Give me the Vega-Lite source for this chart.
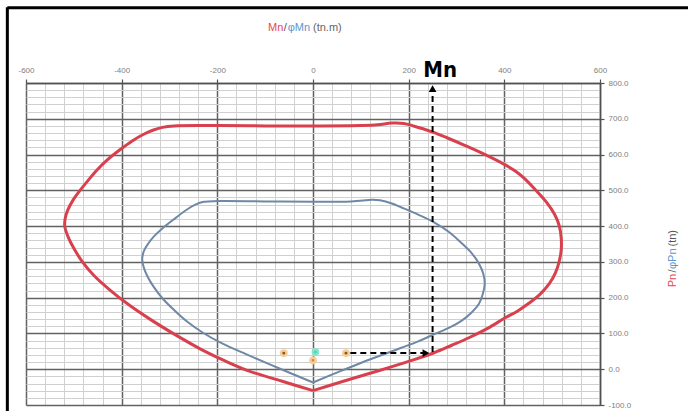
{
  "$schema": "https://vega.github.io/schema/vega-lite/v6.json",
  "width": 574,
  "height": 322,
  "autosize": {"type": "none"},
  "padding": {"left": 26, "top": 83, "right": 88, "bottom": 6},
  "background": "white",
  "config": {
    "view": {"stroke": null},
    "axis": {"labelFont": "Liberation Sans", "labelFontSize": 8, "labelColor": "#808080", "domainColor": "#505050", "domainWidth": 1.5, "tickColor": "#505050", "tickSize": 4, "tickWidth": 1.2}
  },
  "datasets": {
    "red": [
      {"i": 1, "m": 0, "p": -60}, {"i": 2, "m": -66, "p": -33}, {"i": 3, "m": -132, "p": -6}, {"i": 4, "m": -185, "p": 24},
      {"i": 5, "m": -236, "p": 57}, {"i": 6, "m": -290, "p": 98}, {"i": 7, "m": -341, "p": 140}, {"i": 8, "m": -385, "p": 180},
      {"i": 9, "m": -425, "p": 222}, {"i": 10, "m": -458, "p": 262}, {"i": 11, "m": -482, "p": 300}, {"i": 12, "m": -500, "p": 338},
      {"i": 13, "m": -512, "p": 370}, {"i": 14, "m": -519, "p": 400}, {"i": 15, "m": -518, "p": 422},
      {"i": 16, "m": -513, "p": 444}, {"i": 17, "m": -502, "p": 472}, {"i": 18, "m": -487, "p": 500}, {"i": 19, "m": -470, "p": 528},
      {"i": 20, "m": -452, "p": 556}, {"i": 21, "m": -430, "p": 585}, {"i": 22, "m": -403, "p": 614}, {"i": 23, "m": -378, "p": 638},
      {"i": 24, "m": -355, "p": 656}, {"i": 25, "m": -335, "p": 668}, {"i": 26, "m": -315, "p": 676}, {"i": 27, "m": -290, "p": 680},
      {"i": 28, "m": -200, "p": 681}, {"i": 29, "m": -100, "p": 680}, {"i": 30, "m": 0, "p": 680}, {"i": 31, "m": 100, "p": 681},
      {"i": 32, "m": 135, "p": 683}, {"i": 33, "m": 165, "p": 688}, {"i": 34, "m": 190, "p": 687}, {"i": 35, "m": 210, "p": 680},
      {"i": 36, "m": 230, "p": 672}, {"i": 37, "m": 252, "p": 662}, {"i": 38, "m": 280, "p": 647}, {"i": 39, "m": 317, "p": 626},
      {"i": 40, "m": 360, "p": 600}, {"i": 41, "m": 401, "p": 572}, {"i": 42, "m": 425, "p": 552}, {"i": 43, "m": 443, "p": 532},
      {"i": 44, "m": 466, "p": 500}, {"i": 45, "m": 488, "p": 467}, {"i": 46, "m": 505, "p": 433}, {"i": 47, "m": 515, "p": 400},
      {"i": 48, "m": 519, "p": 365}, {"i": 49, "m": 519, "p": 335}, {"i": 50, "m": 515, "p": 303}, {"i": 51, "m": 507, "p": 270},
      {"i": 52, "m": 494, "p": 239}, {"i": 53, "m": 475, "p": 210}, {"i": 54, "m": 452, "p": 185}, {"i": 55, "m": 428, "p": 163},
      {"i": 56, "m": 401, "p": 143}, {"i": 57, "m": 365, "p": 114}, {"i": 58, "m": 326, "p": 88}, {"i": 59, "m": 290, "p": 67},
      {"i": 60, "m": 253, "p": 46}, {"i": 61, "m": 200, "p": 22}, {"i": 62, "m": 130, "p": -7}, {"i": 63, "m": 60, "p": -35},
      {"i": 64, "m": 0, "p": -60}
    ],
    "blue": [
      {"i": 1, "m": 0, "p": -37}, {"i": 2, "m": -70, "p": 2}, {"i": 3, "m": -140, "p": 42}, {"i": 4, "m": -190, "p": 72},
      {"i": 5, "m": -230, "p": 102}, {"i": 6, "m": -262, "p": 132}, {"i": 7, "m": -290, "p": 165}, {"i": 8, "m": -314, "p": 197},
      {"i": 9, "m": -333, "p": 230}, {"i": 10, "m": -347, "p": 262}, {"i": 11, "m": -355, "p": 290}, {"i": 12, "m": -357, "p": 310},
      {"i": 13, "m": -353, "p": 332}, {"i": 14, "m": -344, "p": 352}, {"i": 15, "m": -332, "p": 372}, {"i": 16, "m": -312, "p": 397},
      {"i": 17, "m": -287, "p": 423}, {"i": 18, "m": -265, "p": 445}, {"i": 19, "m": -246, "p": 460}, {"i": 20, "m": -228, "p": 468},
      {"i": 21, "m": -200, "p": 470}, {"i": 22, "m": -100, "p": 469}, {"i": 23, "m": 0, "p": 468}, {"i": 24, "m": 80, "p": 469},
      {"i": 25, "m": 110, "p": 472}, {"i": 26, "m": 125, "p": 474}, {"i": 27, "m": 140, "p": 472}, {"i": 28, "m": 165, "p": 463},
      {"i": 29, "m": 185, "p": 452}, {"i": 30, "m": 220, "p": 432}, {"i": 31, "m": 254, "p": 410}, {"i": 32, "m": 285, "p": 383},
      {"i": 33, "m": 311, "p": 352}, {"i": 34, "m": 332, "p": 324}, {"i": 35, "m": 347, "p": 295}, {"i": 36, "m": 356, "p": 267},
      {"i": 37, "m": 359, "p": 239}, {"i": 38, "m": 355, "p": 210}, {"i": 39, "m": 347, "p": 183}, {"i": 40, "m": 331, "p": 158},
      {"i": 41, "m": 311, "p": 136}, {"i": 42, "m": 285, "p": 116}, {"i": 43, "m": 254, "p": 98}, {"i": 44, "m": 220, "p": 78},
      {"i": 45, "m": 185, "p": 60}, {"i": 46, "m": 120, "p": 28}, {"i": 47, "m": 60, "p": -4}, {"i": 48, "m": 0, "p": -37}
    ],
    "pts": [
      {"m": -61, "p": 45, "k": "load"}, {"m": 69, "p": 45, "k": "load"}, {"m": 0, "p": 25, "k": "low"}, {"m": 5, "p": 48, "k": "mid"}
    ]
  },
  "data": {"values": [{}]},
  "layer": [
    {
      "data": {"name": "red"},
      "mark": {"type": "line", "color": "#d8404e", "strokeWidth": 3, "interpolate": "catmull-rom"},
      "encoding": {
        "x": {"field": "m", "type": "quantitative",
          "scale": {"domain": [-600, 600], "nice": false, "zero": false},
          "axis": {"orient": "top", "title": null, "tickCount": 1000,
            "values": [-600,-560,-520,-480,-440,-400,-360,-320,-280,-240,-200,-160,-120,-80,-40,0,40,80,120,160,200,240,280,320,360,400,440,480,520,560,600],
            "grid": true,
            "gridColor": {"condition": {"test": "datum.value % 200 === 0", "value": "#626262"}, "value": "#d0d0d0"},
            "gridWidth": {"condition": {"test": "datum.value % 200 === 0", "value": 1.5}, "value": 1},
            "tickOpacity": {"condition": {"test": "datum.value % 200 === 0", "value": 1}, "value": 0},
            "labelExpr": "datum.value % 200 === 0 ? '' + datum.value : ''",
            "labelPadding": 5, "labelFlush": false, "labelOverlap": false}
        },
        "y": {"field": "p", "type": "quantitative",
          "scale": {"domain": [-100, 800], "nice": false, "zero": false},
          "axis": {"orient": "right", "title": null, "tickCount": 1000,
            "values": [-100,-80,-60,-40,-20,0,20,40,60,80,100,120,140,160,180,200,220,240,260,280,300,320,340,360,380,400,420,440,460,480,500,520,540,560,580,600,620,640,660,680,700,720,740,760,780,800],
            "grid": true,
            "gridColor": {"condition": {"test": "datum.value % 100 === 0", "value": "#626262"}, "value": "#d0d0d0"},
            "gridWidth": {"condition": {"test": "datum.value % 100 === 0", "value": 1.5}, "value": 1},
            "tickOpacity": {"condition": {"test": "datum.value % 100 === 0", "value": 1}, "value": 0},
            "labelExpr": "datum.value % 100 === 0 ? datum.value + '.0' : ''",
            "labelPadding": 4, "labelFlush": false, "labelOverlap": false}
        },
        "order": {"field": "i", "type": "quantitative"}
      }
    },
    {
      "data": {"name": "blue"},
      "mark": {"type": "line", "color": "#6f88a6", "strokeWidth": 2, "interpolate": "catmull-rom"},
      "encoding": {
        "x": {"field": "m", "type": "quantitative"},
        "y": {"field": "p", "type": "quantitative"},
        "order": {"field": "i", "type": "quantitative"}
      }
    },
    {
      "mark": {"type": "rule", "color": "black", "strokeWidth": 2, "strokeDash": [6, 4]},
      "encoding": {
        "x": {"datum": 78, "type": "quantitative"},
        "x2": {"datum": 232},
        "y": {"datum": 45, "type": "quantitative"}
      }
    },
    {
      "mark": {"type": "rule", "color": "black", "strokeWidth": 2, "strokeDash": [6, 4]},
      "encoding": {
        "x": {"datum": 250, "type": "quantitative"},
        "y": {"datum": 48, "type": "quantitative"},
        "y2": {"datum": 778}
      }
    },
    {
      "mark": {"type": "point", "shape": "triangle-up", "filled": true, "color": "black", "opacity": 1, "size": 60},
      "encoding": {
        "x": {"datum": 250, "type": "quantitative"},
        "y": {"datum": 784, "type": "quantitative"}
      }
    },
    {
      "mark": {"type": "point", "shape": "triangle-right", "filled": true, "color": "black", "opacity": 1, "size": 60},
      "encoding": {
        "x": {"datum": 236, "type": "quantitative"},
        "y": {"datum": 45, "type": "quantitative"}
      }
    },
    {
      "data": {"name": "pts"},
      "mark": {"type": "point", "filled": true, "opacity": 1, "strokeWidth": 2.5},
      "encoding": {
        "x": {"field": "m", "type": "quantitative"},
        "y": {"field": "p", "type": "quantitative"},
        "color": {"field": "k", "type": "nominal", "legend": null,
          "scale": {"domain": ["load", "low", "mid"], "range": ["#8a5a22", "#e8823a", "#3fd6b2"]}},
        "stroke": {"field": "k", "type": "nominal", "legend": null,
          "scale": {"domain": ["load", "low", "mid"], "range": ["#f6cf96", "#f6cf96", "#7fe6cc"]}},
        "size": {"field": "k", "type": "nominal", "legend": null,
          "scale": {"domain": ["load", "low", "mid"], "range": [30, 26, 110]}}
      }
    },
    {
      "mark": {"type": "rule", "color": "black", "strokeWidth": 3},
      "encoding": {
        "x": {"datum": -639, "type": "quantitative"},
        "x2": {"datum": 800},
        "y": {"datum": 1010, "type": "quantitative"}
      }
    },
    {
      "mark": {"type": "rule", "color": "black", "strokeWidth": 3},
      "encoding": {
        "x": {"datum": -639, "type": "quantitative"},
        "y": {"datum": 1012, "type": "quantitative"},
        "y2": {"datum": -130}
      }
    },
    {
      "mark": {"type": "text", "text": "Mn", "font": "DejaVu Sans Condensed, Liberation Sans", "fontSize": 22, "fontWeight": "bold", "color": "black", "align": "center", "baseline": "alphabetic"},
      "encoding": {
        "x": {"datum": 266, "type": "quantitative"},
        "y": {"datum": 816, "type": "quantitative"}
      }
    },
    {
      "mark": {"type": "text", "text": "Mn", "font": "Liberation Sans", "fontSize": 11, "color": "#e8474a", "align": "left", "baseline": "middle"},
      "encoding": {"x": {"datum": -94, "type": "quantitative"}, "y": {"datum": 955, "type": "quantitative"}}
    },
    {
      "mark": {"type": "text", "text": "/", "font": "Liberation Sans", "fontSize": 11, "color": "#555555", "align": "left", "baseline": "middle"},
      "encoding": {"x": {"datum": -61, "type": "quantitative"}, "y": {"datum": 955, "type": "quantitative"}}
    },
    {
      "mark": {"type": "text", "text": "φMn", "font": "Liberation Sans", "fontSize": 11, "color": "#5f95cf", "align": "left", "baseline": "middle"},
      "encoding": {"x": {"datum": -53, "type": "quantitative"}, "y": {"datum": 955, "type": "quantitative"}}
    },
    {
      "mark": {"type": "text", "text": "(tn.m)", "font": "Liberation Sans", "fontSize": 11, "color": "#666666", "align": "left", "baseline": "middle"},
      "encoding": {"x": {"datum": 0, "type": "quantitative"}, "y": {"datum": 955, "type": "quantitative"}}
    },
    {
      "mark": {"type": "text", "text": "Pn", "angle": 270, "font": "Liberation Sans", "fontSize": 11, "color": "#e8474a", "align": "left", "baseline": "middle"},
      "encoding": {"x": {"datum": 753, "type": "quantitative"}, "y": {"datum": 229, "type": "quantitative"}}
    },
    {
      "mark": {"type": "text", "text": "/", "angle": 270, "font": "Liberation Sans", "fontSize": 11, "color": "#555555", "align": "left", "baseline": "middle"},
      "encoding": {"x": {"datum": 753, "type": "quantitative"}, "y": {"datum": 270, "type": "quantitative"}}
    },
    {
      "mark": {"type": "text", "text": "φPn", "angle": 270, "font": "Liberation Sans", "fontSize": 11, "color": "#5f95cf", "align": "left", "baseline": "middle"},
      "encoding": {"x": {"datum": 753, "type": "quantitative"}, "y": {"datum": 280, "type": "quantitative"}}
    },
    {
      "mark": {"type": "text", "text": "(tn)", "angle": 270, "font": "Liberation Sans", "fontSize": 11, "color": "#555555", "align": "left", "baseline": "middle"},
      "encoding": {"x": {"datum": 753, "type": "quantitative"}, "y": {"datum": 343, "type": "quantitative"}}
    }
  ]
}
